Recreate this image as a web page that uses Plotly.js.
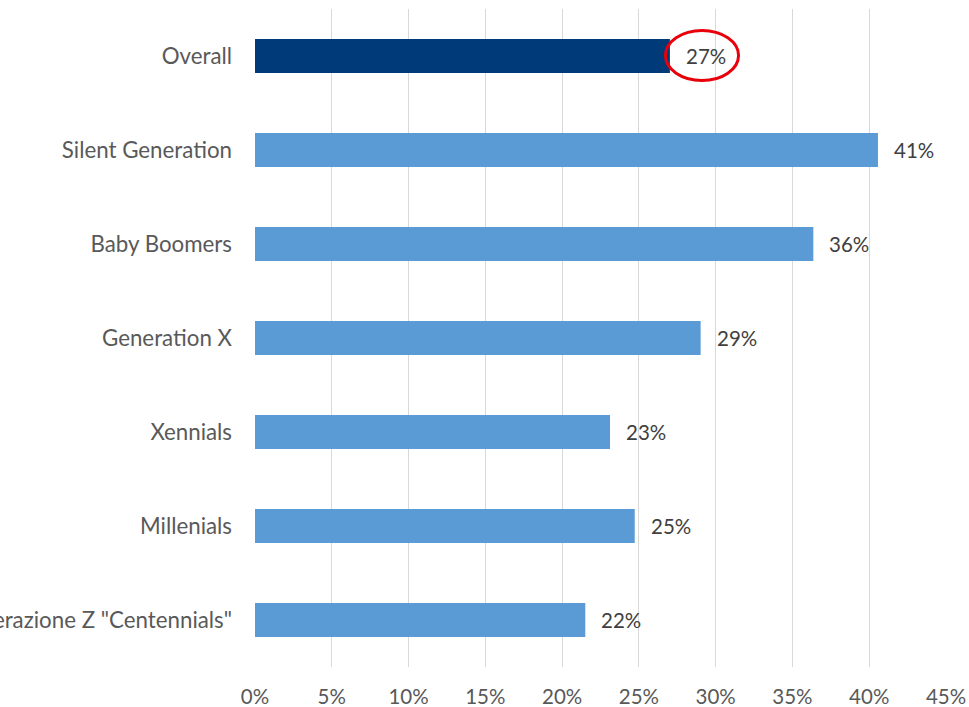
<!DOCTYPE html>
<html>
<head>
<meta charset="utf-8">
<script src="https://cdn.plot.ly/plotly-3.0.1.min.js"></script>
<style>html,body{margin:0;padding:0;background:#fff;}#chart{width:969px;height:707px;}</style>
</head>
<body>
<div id="chart"></div>
<script>
const categories = ["Overall", "Silent Generation", "Baby Boomers", "Generation X", "Xennials", "Millenials", "Generazione Z \"Centennials\""];
const values = [27.02, 40.57, 36.36, 29.02, 23.12, 24.73, 21.51];
const barColors = ["#003A78", "#5B9BD5", "#5B9BD5", "#5B9BD5", "#5B9BD5", "#5B9BD5", "#5B9BD5"];
const xTickVals = [0, 5, 10, 15, 20, 25, 30, 35, 40, 45];
const xTickText = ["0%", "5%", "10%", "15%", "20%", "25%", "30%", "35%", "40%", "45%"];

const FONT = "Lato, 'Open Sans', sans-serif";

const trace = {
  type: "bar",
  orientation: "h",
  x: values,
  y: categories,
  width: 0.36,
  marker: {color: barColors},
  hoverinfo: "none"
};

const annotations = values.map((v, i) => ({
  x: v, y: categories[i], xref: "x", yref: "y",
  text: Math.round(v) + "%",
  showarrow: false, xanchor: "left", yanchor: "middle",
  xshift: 14, yshift: 0,
  font: {family: FONT, size: 20.5, color: "#404040"}
}));

const overall = values[0];
const layout = {
  width: 969, height: 707,
  margin: {l: 255, r: 23, t: 9, b: 40},
  paper_bgcolor: "#ffffff", plot_bgcolor: "#ffffff",
  showlegend: false,
  font: {family: FONT, size: 20, color: "#595959"},
  xaxis: {
    autorange: false, range: [0, 45], tickvals: xTickVals, ticktext: xTickText,
    showgrid: true, gridcolor: "#D9D9D9", gridwidth: 1.2,
    zeroline: false, showline: false, ticks: "",
    ticklabelstandoff: 15,
    tickfont: {family: FONT, size: 20.5, color: "#595959"}
  },
  yaxis: {
    type: "category", categoryorder: "array", categoryarray: categories,
    autorange: false, range: [6.5, -0.5],
    showgrid: false, zeroline: false, showline: false, ticks: "",
    ticklabelstandoff: 22,
    tickfont: {family: FONT, size: 22.3, color: "#595959"}
  },
  annotations: annotations,
  shapes: [{
    type: "circle", xref: "x", yref: "y",
    x0: overall - 0.29, x1: overall + 4.47,
    y0: -0.271, y1: 0.261,
    line: {color: "#E8000B", width: 3}
  }]
};

Plotly.newPlot("chart", [trace], layout, {displayModeBar: false, staticPlot: true});
</script>
</body>
</html>
